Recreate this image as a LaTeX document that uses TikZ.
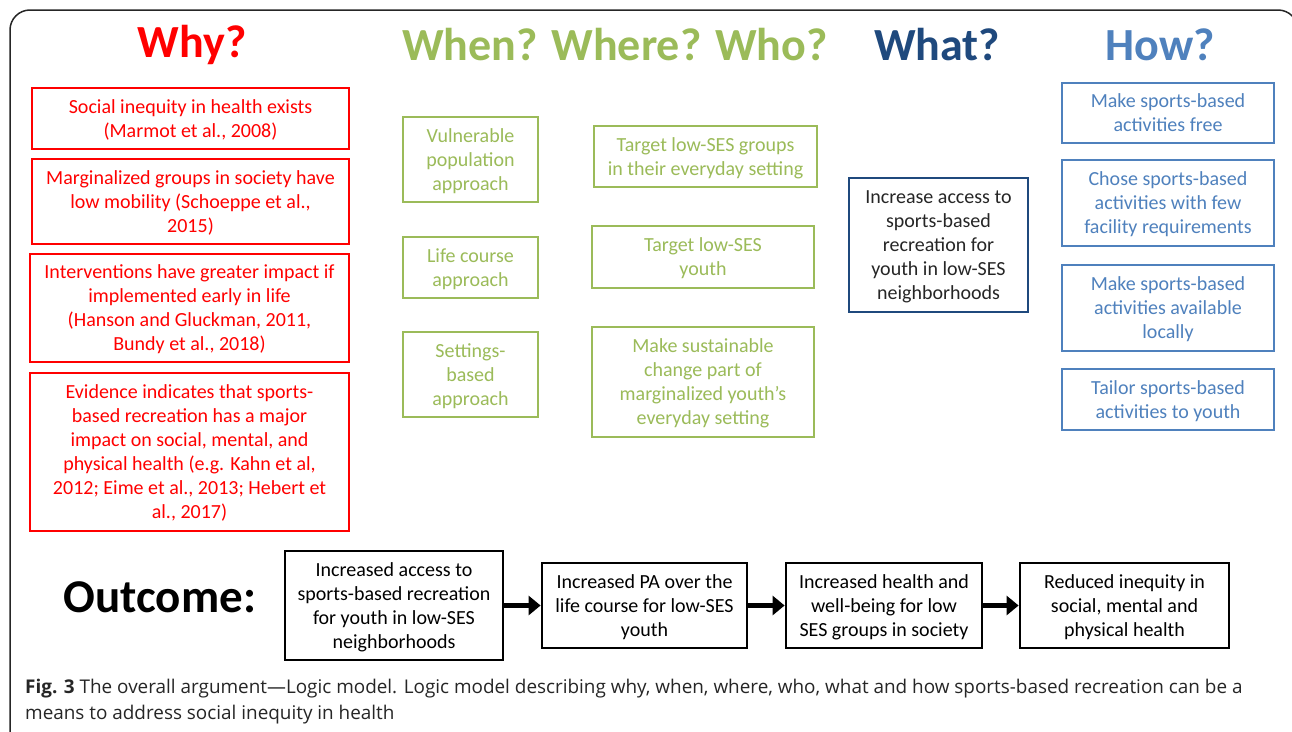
\documentclass[tikz,border=0pt]{standalone}
\usepackage{fontspec}
\setmainfont{Carlito}
\newfontfamily\capfont{Open Sans}
\usetikzlibrary{arrows.meta}
\definecolor{wred}{HTML}{FF0000}
\definecolor{wgreen}{HTML}{9BBB59}
\definecolor{wdblue}{HTML}{1F497D}
\definecolor{wblue}{HTML}{4F81BD}
\begin{document}
\begin{tikzpicture}[x=1pt,y=-1pt,
  txt/.style={font=\fontsize{20}{24}\selectfont, align=center, inner sep=0pt},
  box/.style={txt, draw, line width=2.8pt, text depth=0pt},
  redbox/.style={box, draw=wred, text=wred},
  grnbox/.style={box, draw=wgreen, text=wgreen},
  dbbox/.style={box, draw=wdblue, text=black!85},
  blbox/.style={box, draw=wblue, text=wblue},
  blkbox/.style={box, draw=black, text=black},
  head/.style={font=\fontsize{46}{50}\selectfont\bfseries, inner sep=0pt},
  arr/.style={line width=5pt, -{Triangle[length=12pt,width=19pt]}}
]
\useasboundingbox (0,0) rectangle (1292,731);
\fill[white] (0,0) rectangle (1292,731);
% frame
\draw[line width=1.5pt, black!85, rounded corners=20pt] (10,760) -- (10,10) -- (1298,10) -- (1298,760);

% headings
\node[head, text=wred] (hwhy) at (192,45) {Why?};
\node[head, text=wgreen] (hwhen) at (615,45) {When? Where? Who?};
\node[head, text=wdblue] (hwhat) at (937,45) {What?};
\node[head, text=wblue] (hhow) at (1160,45) {How?};

% why boxes
\node[redbox, minimum width=317pt, minimum height=61pt] (r1) at (190.5,118.5) {Social inequity in health exists\\(Marmot et al., 2008)};
\node[redbox, minimum width=317pt, minimum height=85pt] (r2) at (190.5,201.5) {Marginalized groups in society have\\low mobility (Schoeppe et al.,\\2015)};
\node[redbox, minimum width=319pt, minimum height=108pt] (r3) at (189.5,308) {Interventions have greater impact if\\implemented early in life\\(Hanson and Gluckman, 2011,\\Bundy et al., 2018)};
\node[redbox, minimum width=319pt, minimum height=158pt] (r4) at (189.5,452) {Evidence indicates that sports-\\based recreation has a major\\impact on social, mental, and\\physical health (e.g. Kahn et al,\\2012; Eime et al., 2013; Hebert et\\al., 2017)};

% when/where/who boxes
\node[grnbox, minimum width=135pt, minimum height=85pt] (g1) at (470.5,159.5) {Vulnerable\\population\\approach};
\node[grnbox, minimum width=135pt, minimum height=61pt] (g2) at (470.5,267.5) {Life course\\approach};
\node[grnbox, minimum width=135pt, minimum height=85pt] (g3) at (470.5,374.5) {Settings-\\based\\approach};
\node[grnbox, minimum width=223pt, minimum height=61pt] (g4) at (705.5,156.5) {Target low-SES groups\\in their everyday setting};
\node[grnbox, minimum width=222pt, minimum height=62pt] (g5) at (703,257) {Target low-SES\\youth};
\node[grnbox, minimum width=222pt, minimum height=110pt] (g6) at (703,382) {Make sustainable\\change part of\\marginalized youth’s\\everyday setting};

% what box
\node[dbbox, minimum width=179pt, minimum height=134pt] (w1) at (938.5,245) {Increase access to\\sports-based\\recreation for\\youth in low-SES\\neighborhoods};

% how boxes
\node[blbox, minimum width=212pt, minimum height=60pt] (b1) at (1168,113) {Make sports-based\\activities free};
\node[blbox, minimum width=212pt, minimum height=86pt] (b2) at (1168,203) {Chose sports-based\\activities with few\\facility requirements};
\node[blbox, minimum width=212pt, minimum height=86pt] (b3) at (1168,308) {Make sports-based\\activities available\\locally};
\node[blbox, minimum width=212pt, minimum height=61pt] (b4) at (1168,399.5) {Tailor sports-based\\activities to youth};

% outcome
\node[font=\fontsize{47}{50}\selectfont\bfseries, inner sep=0pt] (out) at (160,597) {Outcome:};
\node[blkbox, minimum width=218pt, minimum height=109pt] (o1) at (394,605.5) {Increased access to\\sports-based recreation\\for youth in low-SES\\neighborhoods};
\node[blkbox, minimum width=205pt, minimum height=85pt] (o2) at (644.5,605.5) {Increased PA over the\\life course for low-SES\\youth};
\node[blkbox, minimum width=196pt, minimum height=85pt] (o3) at (884,605.5) {Increased health and\\well-being for low\\SES groups in society};
\node[blkbox, minimum width=209pt, minimum height=85pt] (o4) at (1124.5,605.5) {Reduced inequity in\\social, mental and\\physical health};
\draw[arr] (o1.east) -- (o2.west);
\draw[arr] (o2.east) -- (o3.west);
\draw[arr] (o3.east) -- (o4.west);

% caption
\node[anchor=west, inner sep=0pt, font=\capfont\fontsize{18.9}{26}\selectfont, text=black!85, align=left] (cap) at (25,702) {{\bfseries Fig. 3} The overall argument—Logic model. Logic model describing why, when, where, who, what and how sports-based recreation can be a\\means to address social inequity in health};
\end{tikzpicture}
\end{document}
